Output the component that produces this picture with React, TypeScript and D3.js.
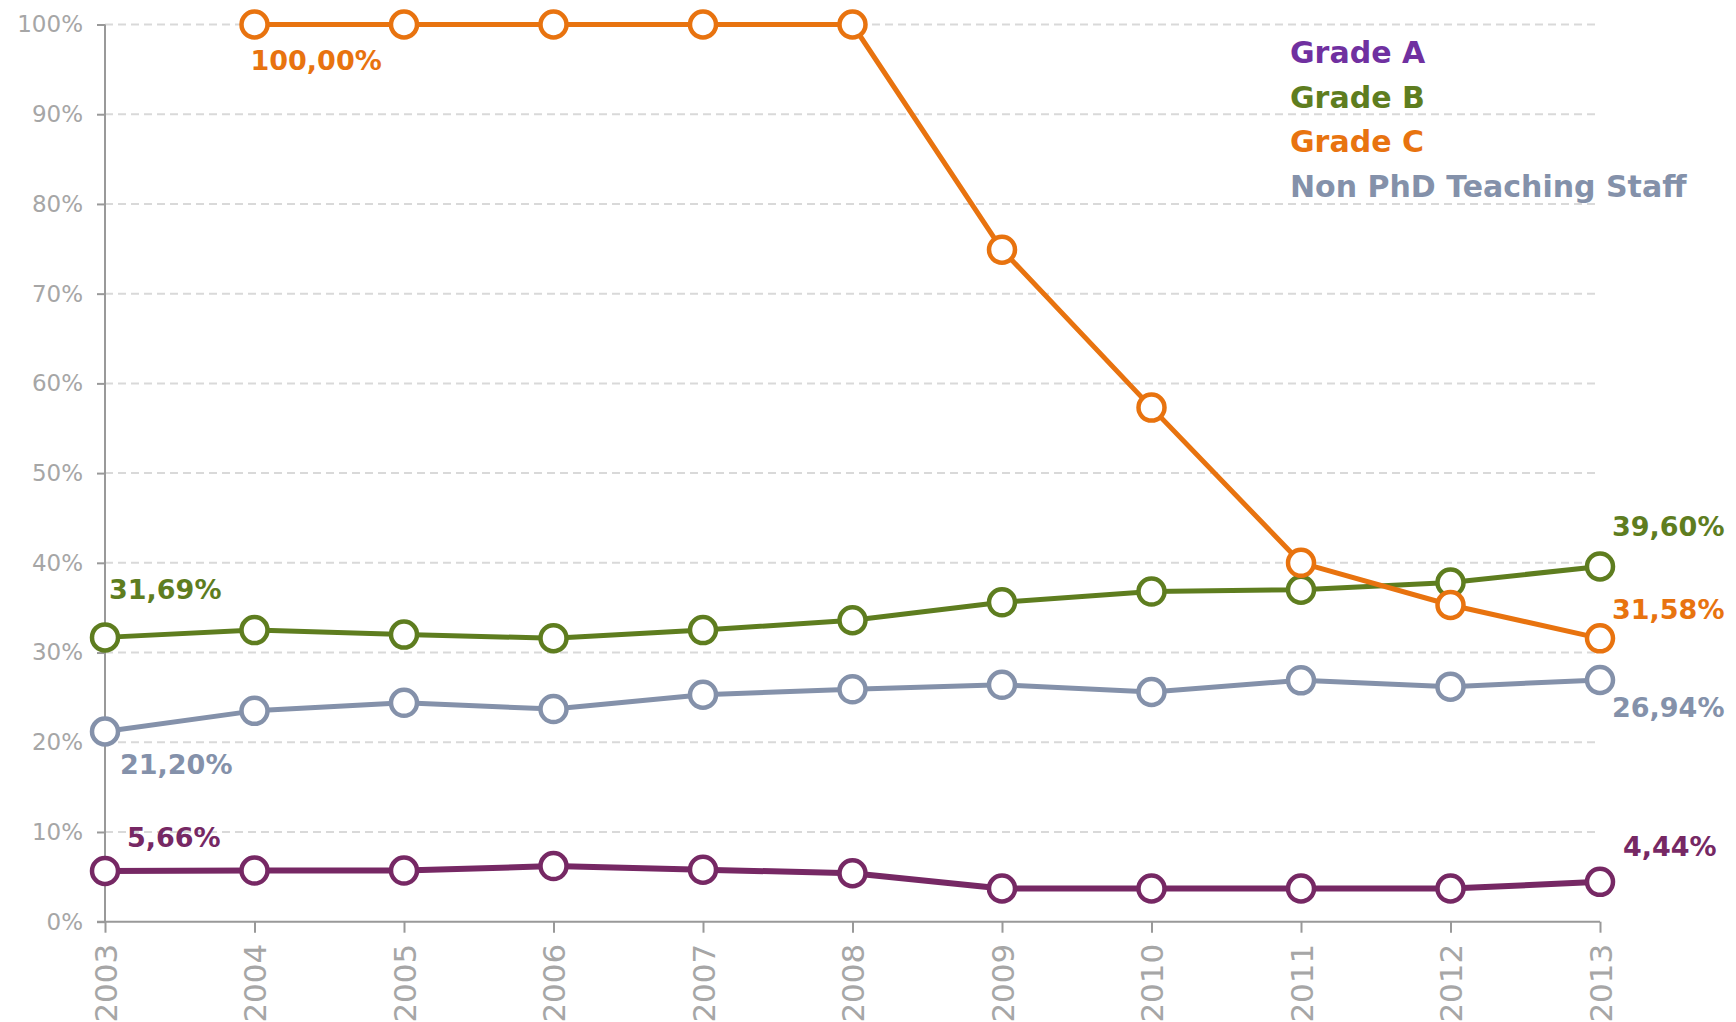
import React, { useEffect, useRef } from "react";
import * as d3 from "d3";

// years on the x axis
const years = [2003, 2004, 2005, 2006, 2007, 2008, 2009, 2010, 2011, 2012, 2013];

// percentages per series (null = no value)
const gradeA = [5.66, 5.7, 5.7, 6.2, 5.8, 5.4, 3.7, 3.7, 3.7, 3.7, 4.44];
const gradeB = [31.69, 32.5, 32.0, 31.6, 32.5, 33.6, 35.6, 36.8, 37.0, 37.8, 39.6];
const gradeC = [null, 100, 100, 100, 100, 100, 74.9, 57.3, 40.0, 35.3, 31.58];
const nonPhd = [21.2, 23.5, 24.4, 23.7, 25.3, 25.9, 26.4, 25.6, 26.9, 26.2, 26.94];

const yTicks = [0, 10, 20, 30, 40, 50, 60, 70, 80, 90, 100];

const seriesNames = ["Grade A", "Grade B", "Grade C", "Non PhD Teaching Staff"];

const W = 1736;
const H = 1022;
const FONT = "'DejaVu Sans', sans-serif";

export default function App() {
  const ref = useRef<SVGSVGElement>(null);

  useEffect(() => {
    const svg = d3.select(ref.current);
    svg.selectAll("*").remove();

    const x = d3.scalePoint<number>().domain(years).range([105, 1600]);
    const y = d3.scaleLinear().domain([0, 100]).range([921.7, 24.5]);

    const series = [
      { name: "Grade A", values: gradeA, color: "#762864", legend: "#7030a0", width: 6 },
      { name: "Grade B", values: gradeB, color: "#5e7d1f", legend: "#5e7d1f", width: 5 },
      { name: "Non PhD Teaching Staff", values: nonPhd, color: "#8491aa", legend: "#8491aa", width: 5 },
      { name: "Grade C", values: gradeC, color: "#e8730f", legend: "#e8730f", width: 5 },
    ];

    // value labels: series, year index, offset from the point
    const labels = [
      { s: "Grade B", i: 0, dx: 4, dy: -38 },
      { s: "Non PhD Teaching Staff", i: 0, dx: 15, dy: 43 },
      { s: "Grade A", i: 0, dx: 22, dy: -24 },
      { s: "Grade C", i: 1, dx: -4, dy: 45 },
      { s: "Grade B", i: 10, dx: 12, dy: -30 },
      { s: "Grade C", i: 10, dx: 12, dy: -19 },
      { s: "Non PhD Teaching Staff", i: 10, dx: 12, dy: 37 },
      { s: "Grade A", i: 10, dx: 23, dy: -26 },
    ];

    // gridlines
    svg.append("g")
      .selectAll("line")
      .data(yTicks.filter(t => t > 0))
      .join("line")
      .attr("x1", x(2003)!)
      .attr("x2", x(2013)!)
      .attr("y1", d => y(d))
      .attr("y2", d => y(d))
      .attr("stroke", "#d9d9d9")
      .attr("stroke-width", 2)
      .attr("stroke-dasharray", "8,5");

    // y axis
    const yAxis = svg.append("g")
      .attr("transform", `translate(${x(2003)},0)`)
      .call(d3.axisLeft(y).tickValues(yTicks).tickSize(8).tickPadding(14).tickFormat(d => d + "%"));
    yAxis.select(".domain").attr("stroke", "#999").attr("stroke-width", 2).attr("d", `M0,${y(100)}V${y(0)}`);
    yAxis.selectAll(".tick line").attr("stroke", "#999").attr("stroke-width", 2);
    yAxis.selectAll(".tick text")
      .attr("fill", "#a6a6a6")
      .attr("font-size", 23)
      .attr("font-family", FONT);

    // x axis
    const xAxis = svg.append("g")
      .attr("transform", `translate(0,${y(0)})`)
      .call(d3.axisBottom(x).tickSize(11).tickFormat(d => String(d)));
    xAxis.select(".domain").attr("stroke", "#999").attr("stroke-width", 2).attr("d", `M${x(2003)! - 8},0H${x(2013)}`);
    xAxis.selectAll(".tick line").attr("stroke", "#999").attr("stroke-width", 2);
    xAxis.selectAll(".tick text")
      .attr("fill", "#a6a6a6")
      .attr("font-size", 31)
      .attr("font-family", FONT)
      .attr("transform", "rotate(-90)")
      .attr("text-anchor", "end")
      .attr("x", -22)
      .attr("y", 0)
      .attr("dy", "0.36em");

    const line = d3.line<number | null>()
      .defined(d => d !== null)
      .x((d, i) => x(years[i])!)
      .y(d => y(d as number));

    series.forEach(s => {
      const g = svg.append("g");
      g.append("path")
        .attr("d", line(s.values))
        .attr("fill", "none")
        .attr("stroke", s.color)
        .attr("stroke-width", s.width)
        .attr("stroke-linejoin", "round");
      g.selectAll("circle")
        .data(s.values.map((v, i) => ({ v, i })).filter(d => d.v !== null))
        .join("circle")
        .attr("cx", d => x(years[d.i])!)
        .attr("cy", d => y(d.v as number))
        .attr("r", 13)
        .attr("fill", "#fff")
        .attr("stroke", s.color)
        .attr("stroke-width", 4.5);
    });

    const fmt = (v: number) => d3.format(".2f")(v).replace(".", ",") + "%";

    svg.append("g")
      .selectAll("text")
      .data(labels)
      .join("text")
      .attr("x", d => x(years[d.i])! + d.dx)
      .attr("y", d => {
        const s = series.find(q => q.name === d.s)!;
        return y(s.values[d.i] as number) + d.dy;
      })
      .attr("fill", d => series.find(q => q.name === d.s)!.color)
      .attr("font-family", FONT)
      .attr("font-weight", "bold")
      .attr("font-size", 27)
      .text(d => fmt(series.find(q => q.name === d.s)!.values[d.i] as number));

    // legend
    svg.append("g")
      .selectAll("text")
      .data(seriesNames)
      .join("text")
      .attr("x", 1290)
      .attr("y", (d, i) => 63 + i * 44.7)
      .attr("fill", d => series.find(q => q.name === d)!.legend)
      .attr("font-family", FONT)
      .attr("font-weight", "bold")
      .attr("font-size", 30)
      .text(d => d);
  }, []);

  return (
    <svg
      ref={ref}
      width={W}
      height={H}
      style={{ position: "absolute", left: 0, top: 0, background: "#fff" }}
    />
  );
}
